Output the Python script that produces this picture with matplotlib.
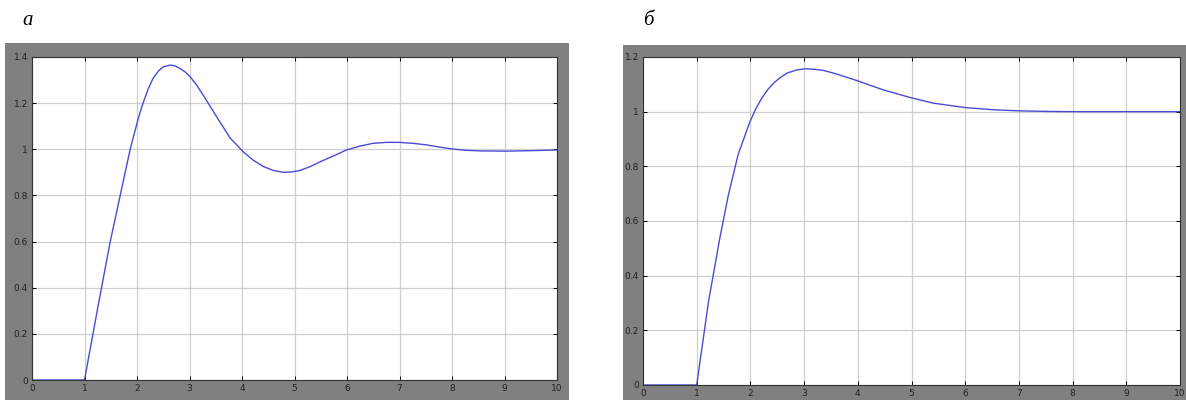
import matplotlib.pyplot as plt
from matplotlib.patches import Rectangle

# panel "а": step response with strong oscillation
t_a = [0, 1.0, 1.25, 1.49, 1.68, 1.87, 2.02, 2.1, 2.21, 2.3, 2.41, 2.5, 2.63,
       2.72, 2.82, 2.92, 3.01, 3.13, 3.26, 3.52, 3.77, 4.02, 4.2, 4.41, 4.6,
       4.79, 4.95, 5.1, 5.3, 5.49, 5.75, 5.99, 6.25, 6.5, 6.75, 6.98, 7.25,
       7.52, 7.75, 8.02, 8.25, 8.53, 9.04, 9.5, 10.0]
y_a = [0, 0, 0.31, 0.60, 0.80, 1.0, 1.13, 1.19, 1.26, 1.305, 1.34, 1.357,
       1.365, 1.362, 1.35, 1.335, 1.315, 1.28, 1.235, 1.14, 1.05, 0.99, 0.955,
       0.925, 0.908, 0.90, 0.902, 0.908, 0.925, 0.946, 0.972, 0.997, 1.014,
       1.026, 1.030, 1.030, 1.026, 1.019, 1.010, 1.001, 0.996, 0.993, 0.992,
       0.994, 0.997]

# panel "б": step response with small overshoot
t_b = [0, 1.0, 1.22, 1.43, 1.59, 1.77, 1.99, 2.1, 2.21, 2.32, 2.43, 2.55,
       2.68, 2.85, 3.02, 3.2, 3.36, 3.6, 3.98, 4.47, 4.97, 5.41, 6.0, 6.52,
       7.0, 7.5, 8.0, 9.0, 10.0]
y_b = [0, 0, 0.305, 0.537, 0.695, 0.842, 0.963, 1.01, 1.049, 1.08, 1.104,
       1.124, 1.141, 1.152, 1.157, 1.155, 1.151, 1.138, 1.114, 1.08, 1.052,
       1.031, 1.015, 1.007, 1.003, 1.001, 1.0, 1.0, 1.0]

x_ticks = list(range(0, 11))
y_ticks_a = [0, 0.2, 0.4, 0.6, 0.8, 1, 1.2, 1.4]
y_ticks_b = [0, 0.2, 0.4, 0.6, 0.8, 1, 1.2]

W, H = 1186, 400
GRAY = "#808080"
LINE = "#4b4bd2"


def px_box(x0, y0, x1, y1):
    # pixel box (top-left origin) -> figure fraction rect
    return [x0 / W, 1 - y1 / H, (x1 - x0) / W, (y1 - y0) / H]


def scope_panel(fig, frame, box, t, y, yticks, letter, letter_x):
    r = px_box(*frame)
    fig.add_artist(Rectangle((r[0], r[1]), r[2], r[3], transform=fig.transFigure,
                             facecolor=GRAY, edgecolor="none", zorder=0))
    ax = fig.add_axes(px_box(*box))
    ax.set_facecolor("white")
    ax.plot(t, y, color=LINE, lw=1.0)
    ax.set_xlim(0, 10)
    ax.set_ylim(0, yticks[-1])
    ax.set_xticks(x_ticks)
    ax.set_yticks(yticks)
    ax.set_xticklabels([str(v) for v in x_ticks])
    ax.set_yticklabels([("%g" % v) for v in yticks])
    ax.grid(True, color="#cfcfcf", lw=0.9)
    ax.tick_params(direction="in", length=3, width=0.7, top=True, right=True,
                   labelsize=6.5, labelcolor="#222222", pad=3)
    for s in ax.spines.values():
        s.set_linewidth(0.8)
        s.set_color("#333333")
    fig.text(letter_x / W, 1 - 25 / H, letter, family="Liberation Serif",
             style="italic", fontsize=15, ha="center", va="baseline")
    return ax


fig = plt.figure(figsize=(W / 100, H / 100), dpi=100)
fig.patch.set_facecolor("white")

scope_panel(fig, (5, 43, 569, 400), (32, 57, 557, 380), t_a, y_a, y_ticks_a, "а", 28)
scope_panel(fig, (623, 45, 1186, 400), (643, 57, 1180, 385), t_b, y_b, y_ticks_b, "б", 648)

fig.savefig("out.png", dpi=100)
